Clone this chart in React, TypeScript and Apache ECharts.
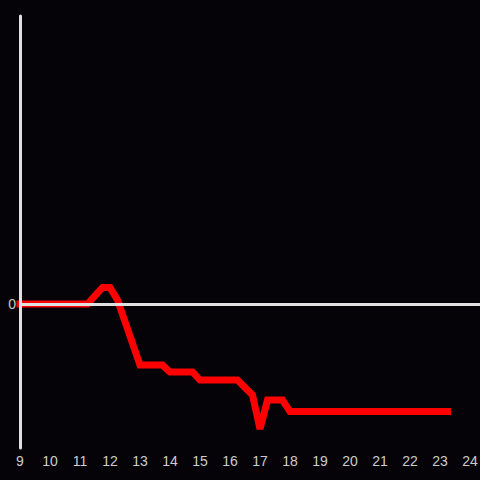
import React, { useEffect, useRef } from "react";
import * as echarts from "echarts";

// hours (x) and value (y) at the line's vertices
const hours = [9, 11.25, 11.75, 12, 12.25, 13, 13.75, 14, 14.75, 15, 16.25, 16.75, 17, 17.25, 17.75, 18, 23.25];
const values = [0, 0, 11.5, 11.5, 2.8, -42.4, -42.4, -47.2, -47.2, -52.8, -52.8, -63.2, -86.8, -66.7, -66.7, -74.7, -74.7];
const xTickLabels = ["9", "10", "11", "12", "13", "14", "15", "16", "17", "18", "19", "20", "21", "22", "23", "24"];

export default function App() {
  const ref = useRef<HTMLDivElement>(null);
  useEffect(() => {
    const chart = echarts.init(ref.current!, null, { renderer: "svg" });
    const data = hours.map((h, i) => [h, values[i]]);
    chart.setOption({
      animation: false,
      backgroundColor: "#050307",
      grid: { left: 20, right: 0, top: 16, bottom: 32, containLabel: false, outerBoundsMode: "none" },
      xAxis: {
        type: "value",
        min: 9,
        max: 24 + 1 / 3,
        interval: 1,
        axisLine: { show: false },
        axisTick: { show: false },
        splitLine: { show: false },
        axisLabel: {
          color: "#cccccc",
          fontSize: 14,
          fontFamily: "Liberation Sans, Arial, sans-serif",
          margin: 6,
          hideOverlap: false,
          formatter: (v: number) => (Number.isInteger(v) && xTickLabels.includes(String(v)) ? String(v) : ""),
        },
      },
      yAxis: {
        type: "value",
        min: -100,
        max: 200,
        interval: 100,
        z: 5,
        axisLine: { show: true, lineStyle: { color: "#e0e0e0", width: 3 } },
        axisTick: { show: false },
        splitLine: { show: false },
        axisLabel: {
          color: "#cccccc",
          fontSize: 14,
          fontFamily: "Liberation Sans, Arial, sans-serif",
          margin: 4,
          formatter: (v: number) => (v === 0 ? "0" : ""),
        },
      },
      series: [
        {
          type: "line",
          data: [],
          z: 1,
          silent: true,
          markLine: {
            silent: true,
            symbol: ["none", "none"],
            label: { show: false },
            lineStyle: { color: "#e0e0e0", width: 3, type: "solid" },
            data: [{ yAxis: 0 }],
          },
        },
        {
          type: "line",
          z: 3,
          data,
          showSymbol: false,
          symbol: "none",
          lineStyle: { color: "#ff0000", width: 7, cap: "square", join: "miter" },
        },
      ],
    });
    return () => chart.dispose();
  }, []);
  return <div ref={ref} style={{ position: "absolute", left: 0, top: 0, width: 480, height: 480 }} />;
}
